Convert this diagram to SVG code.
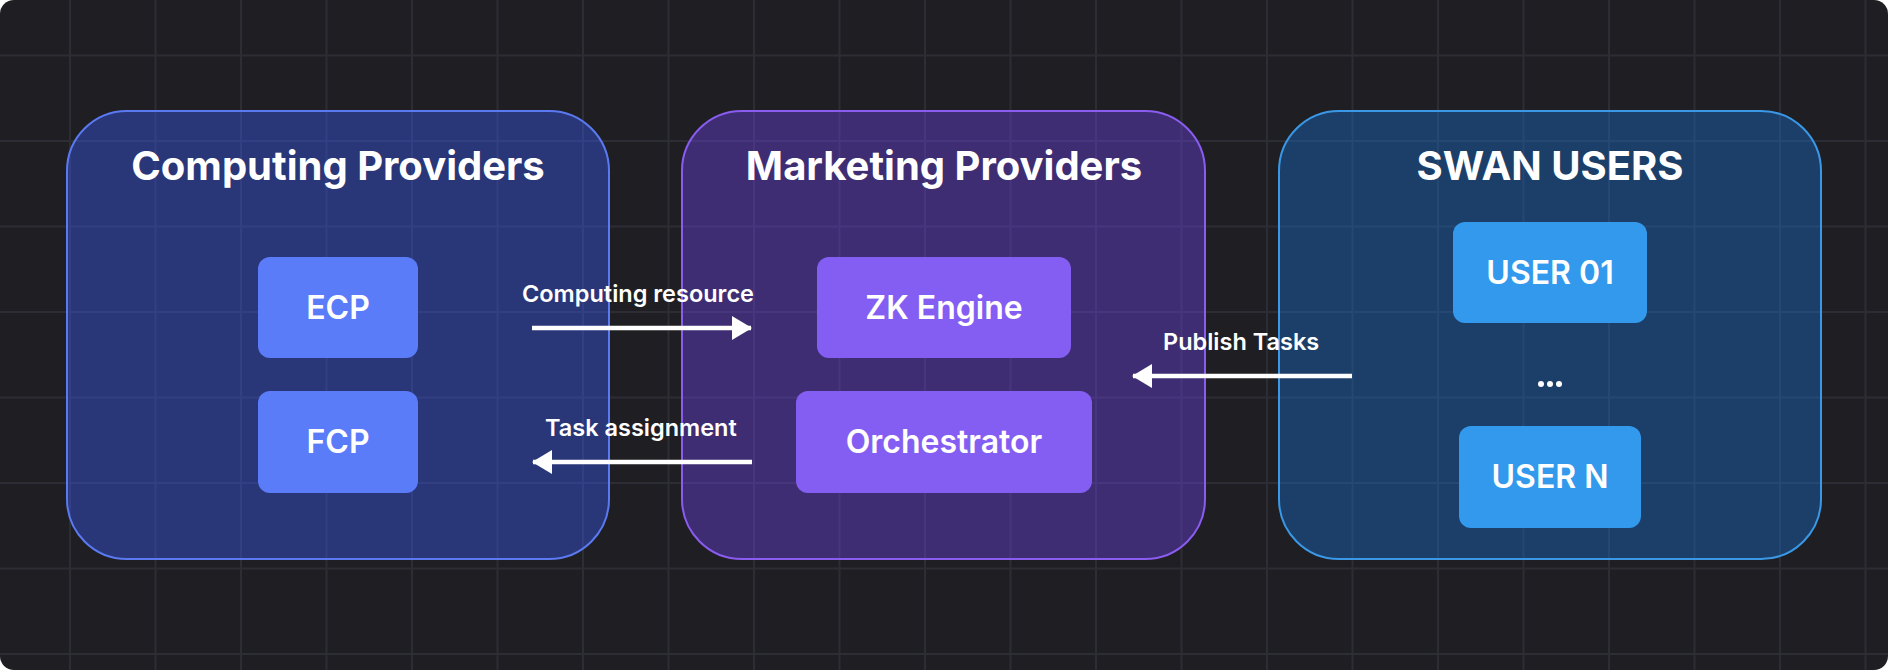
<svg xmlns="http://www.w3.org/2000/svg" width="1888" height="670" viewBox="0 0 1888 670">
  <defs>
    <style>
      .grid line { stroke: #2d2d35; stroke-width: 2; }
      .title { font-family: Inter, "Noto Sans", "Liberation Sans", sans-serif; font-weight: 700; font-size: 40px; fill: #ffffff; text-anchor: middle; }
      .nlabel { font-family: Inter, "Noto Sans", "Liberation Sans", sans-serif; font-weight: 600; font-size: 32px; fill: #ffffff; text-anchor: middle; }
      .elabel { font-family: Inter, "Noto Sans", "Liberation Sans", sans-serif; font-weight: 600; font-size: 23.5px; fill: #ffffff; text-anchor: start; }
      .edge { stroke: #ffffff; stroke-width: 4.5; fill: none; }
      .cp { fill: #3a5af7; fill-opacity: 0.4; stroke: #5b7af2; stroke-width: 2; }
      .mp { fill: #6e44ea; fill-opacity: 0.4; stroke: #8a5cf0; stroke-width: 2; }
      .su { fill: #1970d1; fill-opacity: 0.4; stroke: #3a98e6; stroke-width: 2; }
      .cpn { fill: #5b7cf8; }
      .mpn { fill: #845ef2; }
      .sun { fill: #3399ec; }
    </style>
    <marker id="arrow" markerUnits="userSpaceOnUse" markerWidth="20" markerHeight="24" refX="19" refY="12" orient="auto">
      <path d="M0,0 L20,12 L0,24 Z" fill="#ffffff"/>
    </marker>
  </defs>

  <rect x="0" y="0" width="1888" height="670" fill="#ffffff"/>
  <rect x="0" y="0" width="1888" height="670" rx="14" fill="#1f1f23"/>

  <g class="grid">
    <line x1="70" y1="0" x2="70" y2="670"/>
    <line x1="155.5" y1="0" x2="155.5" y2="670"/>
    <line x1="241" y1="0" x2="241" y2="670"/>
    <line x1="326.5" y1="0" x2="326.5" y2="670"/>
    <line x1="412" y1="0" x2="412" y2="670"/>
    <line x1="497.5" y1="0" x2="497.5" y2="670"/>
    <line x1="583" y1="0" x2="583" y2="670"/>
    <line x1="668.5" y1="0" x2="668.5" y2="670"/>
    <line x1="754" y1="0" x2="754" y2="670"/>
    <line x1="839.5" y1="0" x2="839.5" y2="670"/>
    <line x1="925" y1="0" x2="925" y2="670"/>
    <line x1="1010.5" y1="0" x2="1010.5" y2="670"/>
    <line x1="1096" y1="0" x2="1096" y2="670"/>
    <line x1="1181.5" y1="0" x2="1181.5" y2="670"/>
    <line x1="1267" y1="0" x2="1267" y2="670"/>
    <line x1="1352.5" y1="0" x2="1352.5" y2="670"/>
    <line x1="1438" y1="0" x2="1438" y2="670"/>
    <line x1="1523.5" y1="0" x2="1523.5" y2="670"/>
    <line x1="1609" y1="0" x2="1609" y2="670"/>
    <line x1="1694.5" y1="0" x2="1694.5" y2="670"/>
    <line x1="1780" y1="0" x2="1780" y2="670"/>
    <line x1="1865.5" y1="0" x2="1865.5" y2="670"/>
    <line x1="0" y1="55.5" x2="1888" y2="55.5"/>
    <line x1="0" y1="141" x2="1888" y2="141"/>
    <line x1="0" y1="226.5" x2="1888" y2="226.5"/>
    <line x1="0" y1="312" x2="1888" y2="312"/>
    <line x1="0" y1="397.5" x2="1888" y2="397.5"/>
    <line x1="0" y1="483" x2="1888" y2="483"/>
    <line x1="0" y1="568.5" x2="1888" y2="568.5"/>
    <line x1="0" y1="654" x2="1888" y2="654"/>
  </g>

  <g id="computing-providers">
    <rect class="cp" x="67" y="111" width="542" height="448" rx="60"/>
    <text class="title" x="338" y="180">Computing Providers</text>
  </g>
  <g id="marketing-providers">
    <rect class="mp" x="682" y="111" width="523" height="448" rx="60"/>
    <text class="title" x="944" y="180">Marketing Providers</text>
  </g>
  <g id="swan-users">
    <rect class="su" x="1279" y="111" width="542" height="448" rx="60"/>
    <text class="title" x="1550" y="180">SWAN USERS</text>
  </g>

  <g id="ecp">
    <rect class="cpn" x="258" y="257" width="160" height="101" rx="12"/>
    <text class="nlabel" x="338" y="319">ECP</text>
  </g>
  <g id="fcp">
    <rect class="cpn" x="258" y="391" width="160" height="102" rx="12"/>
    <text class="nlabel" x="338" y="453">FCP</text>
  </g>
  <g id="zk-engine">
    <rect class="mpn" x="817" y="257" width="254" height="101" rx="12"/>
    <text class="nlabel" x="944" y="319">ZK Engine</text>
  </g>
  <g id="orchestrator">
    <rect class="mpn" x="796" y="391" width="296" height="102" rx="12"/>
    <text class="nlabel" x="944" y="453">Orchestrator</text>
  </g>
  <g id="user-01">
    <rect class="sun" x="1453" y="222" width="194" height="101" rx="12"/>
    <text class="nlabel" x="1550" y="284">USER 01</text>
  </g>
  <g id="ellipsis">
    <circle cx="1541" cy="384" r="3" fill="#ffffff"/>
    <circle cx="1550" cy="384" r="3" fill="#ffffff"/>
    <circle cx="1559" cy="384" r="3" fill="#ffffff"/>
  </g>
  <g id="user-n">
    <rect class="sun" x="1459" y="426" width="182" height="102" rx="12"/>
    <text class="nlabel" x="1550" y="488">USER N</text>
  </g>

  <g id="connectors">
    <line class="edge" x1="532" y1="328" x2="751" y2="328" marker-end="url(#arrow)"/>
    <text class="elabel" x="522" y="302">Computing resource</text>
    <line class="edge" x1="752" y1="462" x2="533" y2="462" marker-end="url(#arrow)"/>
    <text class="elabel" x="545" y="436">Task assignment</text>
    <line class="edge" x1="1352" y1="376" x2="1133" y2="376" marker-end="url(#arrow)"/>
    <text class="elabel" x="1163" y="350">Publish Tasks</text>
  </g>
</svg>
